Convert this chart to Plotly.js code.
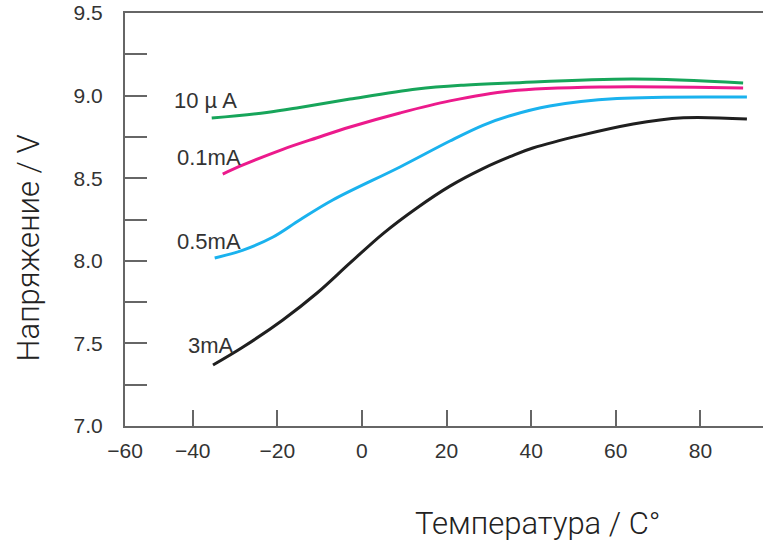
<!DOCTYPE html>
<html>
<head>
<meta charset="utf-8">
<script src="https://cdn.plot.ly/plotly-3.0.1.min.js"></script>
<style>html,body{margin:0;padding:0;background:#fff}#chart{width:763px;height:547px}</style>
</head>
<body>
<div id="chart"></div>
<script>
// Series names
const seriesNames = ['10 \u00b5 A', '0.1mA', '0.5mA', '3mA'];

// 10 µA (green)
const tempA = [-35.5, -22.5, -14.7, -2.8, 13.0, 24.0, 35.0, 64.1, 90.1];
const voltA = [8.864, 8.898, 8.928, 8.979, 9.040, 9.063, 9.076, 9.100, 9.076];

// 0.1 mA (magenta)
const tempB = [-32.9, -28.1, -18.7, -10.6, -2.8, 9.0, 20.8, 35.0, 56.3, 90.1];
const voltB = [8.525, 8.580, 8.675, 8.745, 8.810, 8.895, 8.968, 9.028, 9.052, 9.046];

// 0.5 mA (blue)
const tempC = [-34.8, -28.1, -21.0, -14.7, -6.9, 9.0, 20.8, 28.6, 35.0, 44.4, 60.3, 91.0];
const voltC = [8.017, 8.065, 8.144, 8.247, 8.368, 8.568, 8.725, 8.820, 8.878, 8.937, 8.982, 8.991];

// 3 mA (black)
const tempD = [-35.2, -28.1, -18.7, -10.6, -2.8, 5.0, 13.0, 20.8, 28.6, 35.0, 40.4, 64.1, 76.0, 91.0];
const voltD = [7.369, 7.478, 7.642, 7.805, 7.987, 8.165, 8.320, 8.452, 8.558, 8.630, 8.683, 8.828, 8.866, 8.858];

// Tick labels
const xTickVals = [-56, -40, -20, 0, 20, 40, 60, 80];
const xTickText = ['\u221260', '\u221240', '\u221220', '0', '20', '40', '60', '80'];

const colors = ['#17a55a', '#ec1a8c', '#1ab2ee', '#1f1f1f'];
const temps = [tempA, tempB, tempC, tempD];
const volts = [voltA, voltB, voltC, voltD];
const labelPos = [[-36.9, 8.973], [-36.2, 8.628], [-36.2, 8.114], [-35.7, 7.49]];

const traces = temps.map((t, i) => ({
  x: t, y: volts[i], type: 'scatter', mode: 'lines', name: seriesNames[i],
  line: {color: colors[i], width: 3, shape: 'spline', smoothing: 1}
}));

const tickFont = {family: 'Liberation Sans, Arial, sans-serif', size: 21, color: '#333'};

const annotations = seriesNames.map((n, i) => ({
  x: labelPos[i][0], y: labelPos[i][1], xref: 'x', yref: 'y', text: n, showarrow: false,
  xanchor: 'center', yanchor: 'middle',
  font: {family: 'Liberation Sans, Arial, sans-serif', size: 22, color: '#333'}
}));

const layout = {
  width: 763, height: 547,
  margin: {l: 125, r: 0, t: 13, b: 121},
  paper_bgcolor: '#fff', plot_bgcolor: '#fff',
  showlegend: false,
  xaxis: {
    range: [-56, 94.8], tickvals: xTickVals, ticktext: xTickText,
    ticks: 'inside', ticklen: 16, tickwidth: 2, tickcolor: '#666',
    showline: true, linecolor: '#666', linewidth: 2, mirror: true,
    showgrid: false, zeroline: false, tickfont: tickFont, ticklabelstandoff: 5
  },
  yaxis: {
    range: [7.0, 9.5], dtick: 0.5, tick0: 7, tickformat: '.1f',
    ticks: 'inside', ticklen: 22, tickwidth: 2, tickcolor: '#666',
    minor: {dtick: 0.25, ticks: 'inside', ticklen: 22, tickwidth: 2, tickcolor: '#666', showgrid: false},
    showline: true, linecolor: '#666', linewidth: 2,
    showgrid: false, zeroline: false, tickfont: tickFont, ticklabelstandoff: 16
  },
  annotations: annotations.concat([
    {x: 0.648, y: -0.235, xref: 'paper', yref: 'paper', text: 'Температура / C°', showarrow: false,
     xanchor: 'center', yanchor: 'middle',
     font: {family: 'Roboto, Liberation Sans, sans-serif', size: 31, color: '#222', weight: 300}},
    {x: -0.152, y: 0.43, xref: 'paper', yref: 'paper', text: 'Напряжение / V', showarrow: false,
     textangle: -90, xanchor: 'center', yanchor: 'middle',
     font: {family: 'Roboto, Liberation Sans, sans-serif', size: 31, color: '#222', weight: 300}}
  ])
};

Plotly.newPlot('chart', traces, layout, {displayModeBar: false, staticPlot: true});
</script>
</body>
</html>
